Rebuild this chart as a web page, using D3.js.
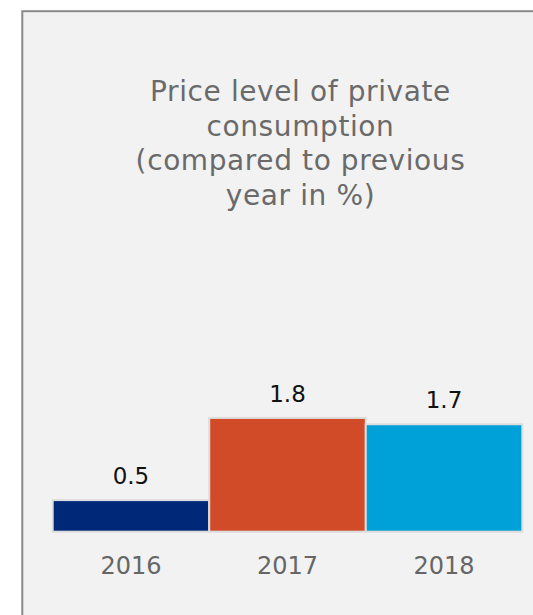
<!DOCTYPE html>
<html>
<head>
<meta charset="utf-8">
<script src="https://cdn.jsdelivr.net/npm/d3@7"></script>
<style>
  html, body { margin: 0; padding: 0; background: #ffffff; }
  svg { display: block; }
  text { font-family: "DejaVu Sans", Verdana, sans-serif; }
</style>
</head>
<body>
<div id="chart"></div>
<script>
// Price level of private consumption, change on previous year (%)
const years = ["2016", "2017", "2018"];
const values = [0.5, 1.8, 1.7];
const barColors = ["#002878", "#d24b29", "#00a0d8"];
const titleLines = [
  "Price level of private",
  "consumption",
  "(compared to previous",
  "year in %)"
];

const width = 533, height = 615;

const svg = d3.select("#chart").append("svg")
  .attr("width", width)
  .attr("height", height);

// Grey card behind the chart, bordered on the top and left
svg.append("rect")
  .attr("x", 22.3)
  .attr("y", 11.2)
  .attr("width", 600)
  .attr("height", 700)
  .attr("fill", "#f2f2f2")
  .attr("stroke", "#8a8a8a")
  .attr("stroke-width", 2);

// Title
svg.append("text")
  .attr("x", 300.5)
  .attr("y", 100.7)
  .attr("text-anchor", "middle")
  .attr("fill", "#6a6a6a")
  .style("font-size", "28px")
  .style("letter-spacing", "0.6px")
  .selectAll("tspan")
  .data(titleLines)
  .join("tspan")
  .attr("x", 300.5)
  .attr("dy", (d, i) => i === 0 ? 0 : 34.8)
  .text(d => d);

const baseline = 531.7;
const x = d3.scaleBand()
  .domain(years)
  .range([52.7, 522.3])
  .padding(0);

const y = d3.scaleLinear()
  .domain([0, 2])
  .range([baseline, baseline - 126.4]);

const data = years.map((yr, i) => ({ year: yr, value: values[i], color: barColors[i] }));

// Bars
svg.append("g")
  .selectAll("rect")
  .data(data)
  .join("rect")
  .attr("x", d => x(d.year))
  .attr("y", d => y(d.value))
  .attr("width", x.bandwidth())
  .attr("height", d => y(0) - y(d.value))
  .attr("fill", d => d.color)
  .attr("stroke", "#dddddd")
  .attr("stroke-width", 2);

// Value labels above bars
svg.append("g")
  .selectAll("text")
  .data(data)
  .join("text")
  .attr("x", d => x(d.year) + x.bandwidth() / 2)
  .attr("y", d => y(d.value) - 16)
  .attr("text-anchor", "middle")
  .attr("fill", "#111111")
  .style("font-size", "23px")
  .text(d => d.value.toFixed(1));

// Category axis (labels only)
const axis = svg.append("g")
  .attr("transform", `translate(0, ${baseline})`)
  .call(d3.axisBottom(x).tickSize(0).tickPadding(22));
axis.select(".domain").remove();
axis.selectAll("text")
  .attr("fill", "#666666")
  .attr("dy", 0)
  .attr("y", 42.3)
  .style("font-size", "24px")
  .style("font-family", "\"DejaVu Sans\", Verdana, sans-serif");
</script>
</body>
</html>
